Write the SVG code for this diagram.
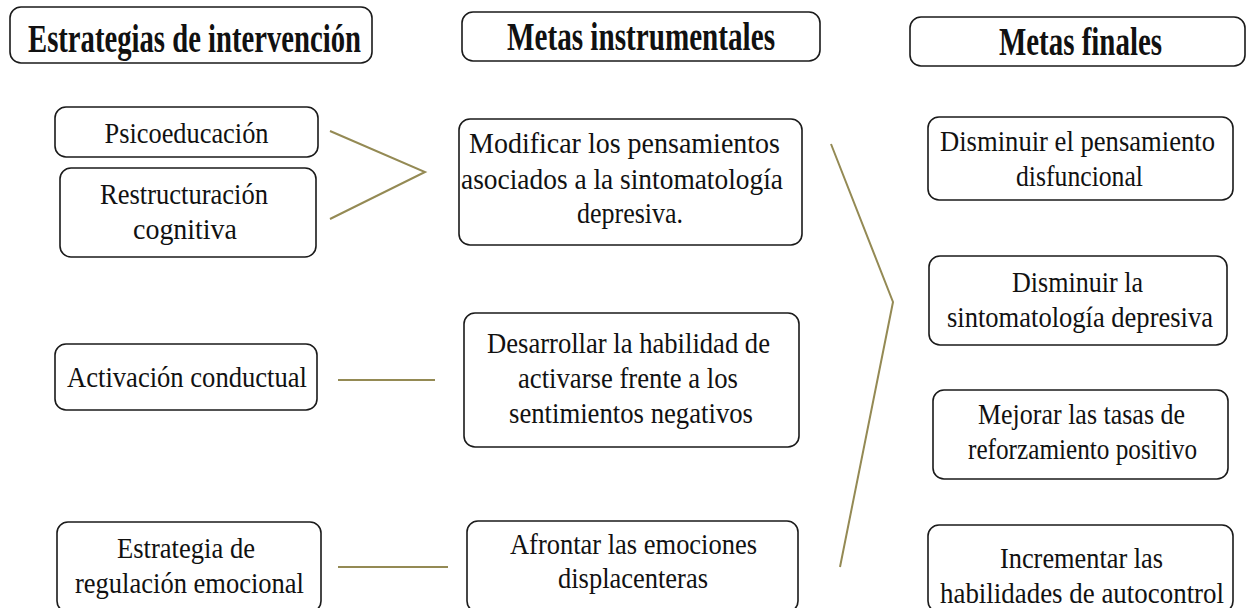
<svg xmlns="http://www.w3.org/2000/svg" width="1250" height="608" viewBox="0 0 1250 608">
<style>
.box{fill:#fff;stroke:#1a1a1a;stroke-width:1.6}
text{font-family:'Liberation Serif','Times New Roman',serif;fill:#111;text-anchor:middle}
.t{font-size:29px}
.h{font-size:40px;font-weight:bold}
.c{fill:none;stroke:#948a54;stroke-width:2}
</style>
<rect width="1250" height="608" fill="#fff"/>
<g id="connectors">
<polyline class="c" points="330,131 425,172 330,219"/>
<line class="c" x1="338" y1="380" x2="435" y2="380"/>
<line class="c" x1="338" y1="567" x2="448" y2="567"/>
<polyline class="c" points="831,144 893,302 840,567"/>
</g>
<g id="h1"><rect class="box" x="10" y="7" width="362" height="56" rx="11"/><text class="h" x="194.5" y="52" textLength="333" lengthAdjust="spacingAndGlyphs">Estrategias de intervención</text></g>
<g id="h2"><rect class="box" x="462" y="12" width="358" height="49" rx="11"/><text class="h" x="641" y="50" textLength="268" lengthAdjust="spacingAndGlyphs">Metas instrumentales</text></g>
<g id="h3"><rect class="box" x="910" y="17" width="335" height="49" rx="11"/><text class="h" x="1080.5" y="55" textLength="163" lengthAdjust="spacingAndGlyphs">Metas finales</text></g>

<g id="psico"><rect class="box" x="55" y="107" width="263" height="50" rx="11"/><text class="t" x="186.5" y="143" textLength="164" lengthAdjust="spacingAndGlyphs">Psicoeducación</text></g>
<g id="restr"><rect class="box" x="60" y="168" width="256" height="89" rx="11"/><text class="t" x="184" y="204" textLength="168" lengthAdjust="spacingAndGlyphs">Restructuración</text><text class="t" x="185" y="239" textLength="104" lengthAdjust="spacingAndGlyphs">cognitiva</text></g>
<g id="activ"><rect class="box" x="55" y="344" width="262" height="66" rx="11"/><text class="t" x="187" y="387" textLength="240" lengthAdjust="spacingAndGlyphs">Activación conductual</text></g>
<g id="regul"><rect class="box" x="57" y="522" width="264" height="90" rx="11"/><text class="t" x="186" y="558" textLength="138" lengthAdjust="spacingAndGlyphs">Estrategia de</text><text class="t" x="189.5" y="593" textLength="229" lengthAdjust="spacingAndGlyphs">regulación emocional</text></g>

<g id="modif"><rect class="box" x="459" y="119" width="343" height="126" rx="11"/><text class="t" x="624.5" y="153" textLength="311" lengthAdjust="spacingAndGlyphs">Modificar los pensamientos</text><text class="t" x="622" y="189" textLength="322" lengthAdjust="spacingAndGlyphs">asociados a la sintomatología</text><text class="t" x="630" y="223" textLength="106" lengthAdjust="spacingAndGlyphs">depresiva.</text></g>
<g id="desarr"><rect class="box" x="464" y="313" width="335" height="134" rx="11"/><text class="t" x="628.5" y="353" textLength="283" lengthAdjust="spacingAndGlyphs">Desarrollar la habilidad de</text><text class="t" x="628" y="388" textLength="220" lengthAdjust="spacingAndGlyphs">activarse frente a los</text><text class="t" x="631" y="423" textLength="244" lengthAdjust="spacingAndGlyphs">sentimientos negativos</text></g>
<g id="afront"><rect class="box" x="467" y="521" width="331" height="91" rx="11"/><text class="t" x="633.5" y="554" textLength="247" lengthAdjust="spacingAndGlyphs">Afrontar las emociones</text><text class="t" x="633" y="588" textLength="150" lengthAdjust="spacingAndGlyphs">displacenteras</text></g>

<g id="dism1"><rect class="box" x="928" y="117" width="305" height="83" rx="11"/><text class="t" x="1077.5" y="151" textLength="275" lengthAdjust="spacingAndGlyphs">Disminuir el pensamiento</text><text class="t" x="1079.5" y="186" textLength="127" lengthAdjust="spacingAndGlyphs">disfuncional</text></g>
<g id="dism2"><rect class="box" x="929" y="256" width="298" height="89" rx="11"/><text class="t" x="1077.5" y="292" textLength="131" lengthAdjust="spacingAndGlyphs">Disminuir la</text><text class="t" x="1080" y="327" textLength="266" lengthAdjust="spacingAndGlyphs">sintomatología depresiva</text></g>
<g id="mejor"><rect class="box" x="933" y="390" width="295" height="89" rx="11"/><text class="t" x="1081.5" y="424" textLength="207" lengthAdjust="spacingAndGlyphs">Mejorar las tasas de</text><text class="t" x="1082.5" y="459" textLength="229" lengthAdjust="spacingAndGlyphs">reforzamiento positivo</text></g>
<g id="incr"><rect class="box" x="928" y="525" width="305" height="87" rx="11"/><text class="t" x="1081.5" y="568" textLength="163" lengthAdjust="spacingAndGlyphs">Incrementar las</text><text class="t" x="1082" y="603" textLength="284" lengthAdjust="spacingAndGlyphs">habilidades de autocontrol</text></g>
</svg>
